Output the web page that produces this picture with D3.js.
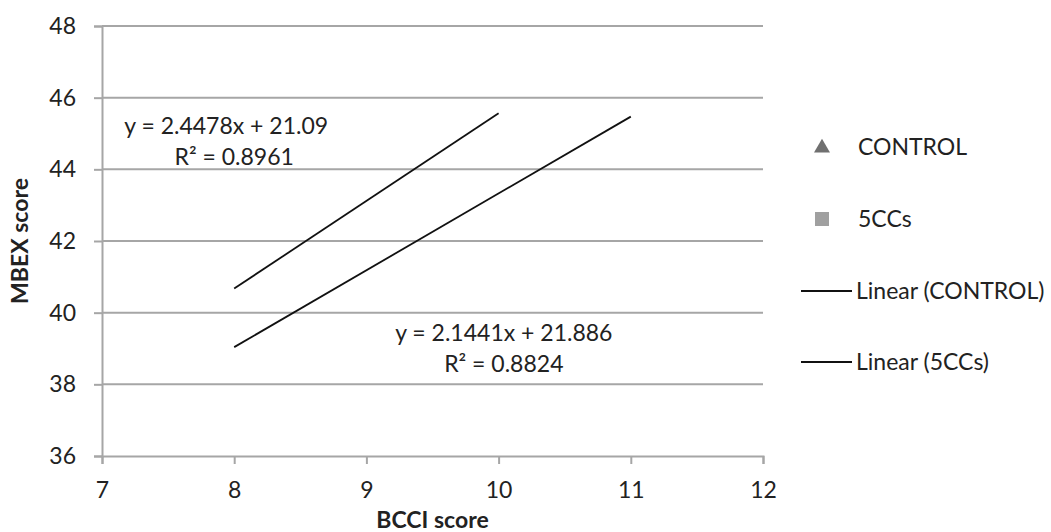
<!DOCTYPE html>
<html>
<head>
<meta charset="utf-8">
<script src="https://cdn.jsdelivr.net/npm/d3@7"></script>
<style>
  body { margin: 0; background: #fff; }
  text { font-family: Lato, "Open Sans", sans-serif; fill: #222; }
</style>
</head>
<body>
<svg id="chart" width="1051" height="532"></svg>
<script>
const seriesNames = ["CONTROL", "5CCs"];
const slopes = [2.4478, 2.1441];
const intercepts = [21.09, 21.886];
const rSquared = [0.8961, 0.8824];
const xStart = [8, 8];
const xEnd = [10, 11];
const xTicks = [7, 8, 9, 10, 11, 12];
const yTicks = [36, 38, 40, 42, 44, 46, 48];

const svg = d3.select("#chart");
const margin = { left: 102, right: 288, top: 26, bottom: 76 };
const W = 1051, H = 532;
const fontSize = "23px";

const x = d3.scaleLinear().domain([7, 12]).range([margin.left, W - margin.right]);
const y = d3.scaleLinear().domain([36, 48]).range([H - margin.bottom, margin.top]);

const gridColor = "#a6a6a6";

// gridlines
svg.append("g")
  .selectAll("line")
  .data(yTicks.slice(1))
  .enter()
  .append("line")
  .attr("x1", x(7)).attr("x2", x(12))
  .attr("y1", d => y(d)).attr("y2", d => y(d))
  .attr("stroke", gridColor).attr("stroke-width", 2);

const xAxis = svg.append("g")
  .attr("transform", `translate(0,${y(36)})`)
  .call(d3.axisBottom(x).tickValues(xTicks).tickSize(8).tickPadding(18).tickFormat(d3.format("d")));
const yAxis = svg.append("g")
  .attr("transform", `translate(${x(7)},0)`)
  .call(d3.axisLeft(y).tickValues(yTicks).tickSize(8).tickPadding(18).tickFormat(d3.format("d")));

[xAxis, yAxis].forEach(a => {
  a.select(".domain").attr("stroke", gridColor).attr("stroke-width", 2);
  a.selectAll(".tick line").attr("stroke", gridColor).attr("stroke-width", 2);
  a.selectAll(".tick text").style("font-size", fontSize).attr("fill", "#222");
});

// trendlines
const lineGen = d3.line().x(d => x(d[0])).y(d => y(d[1]));
seriesNames.forEach((name, i) => {
  const pts = [xStart[i], xEnd[i]].map(v => [v, slopes[i] * v + intercepts[i]]);
  svg.append("path")
    .attr("d", lineGen(pts))
    .attr("fill", "none")
    .attr("stroke", "#111")
    .attr("stroke-width", 1.8);
});

// equation labels
const labelPos = [[8.0, 45.0], [10.1, 39.2]];
seriesNames.forEach((name, i) => {
  const cx = x(labelPos[i][0]) - 8;
  const g = svg.append("text")
    .attr("text-anchor", "middle")
    .style("font-size", fontSize);
  g.append("tspan")
    .attr("x", cx).attr("y", y(labelPos[i][1]))
    .text(`y = ${slopes[i]}x + ${intercepts[i]}`);
  g.append("tspan")
    .attr("x", cx + (i === 0 ? 8 : 0)).attr("dy", 31)
    .text(`R² = ${rSquared[i]}`);
});

// axis titles
svg.append("text")
  .attr("x", (x(7) + x(12)) / 2).attr("y", 528)
  .attr("text-anchor", "middle")
  .style("font-size", fontSize).style("font-weight", "bold")
  .text("BCCI score");
svg.append("text")
  .attr("transform", `translate(28,${(y(36) + y(48)) / 2}) rotate(-90)`)
  .attr("text-anchor", "middle")
  .style("font-size", fontSize).style("font-weight", "bold")
  .text("MBEX score");

// legend
const legend = svg.append("g");
const legendY = [147, 219, 291, 362];
legend.append("path")
  .attr("d", d3.symbol(d3.symbolTriangle, 110)())
  .attr("transform", `translate(822,${legendY[0] + 1})`)
  .attr("fill", "#707070");
legend.append("rect")
  .attr("x", 815).attr("y", legendY[1] - 7).attr("width", 14).attr("height", 14)
  .attr("fill", "#a0a0a0");
[0, 1].forEach(i => {
  legend.append("text")
    .attr("x", 858).attr("y", legendY[i]).attr("dy", "0.35em")
    .style("font-size", fontSize)
    .text(seriesNames[i]);
  legend.append("line")
    .attr("x1", 801).attr("x2", 852)
    .attr("y1", legendY[i + 2]).attr("y2", legendY[i + 2])
    .attr("stroke", "#111").attr("stroke-width", 1.8);
  legend.append("text")
    .attr("x", 856).attr("y", legendY[i + 2]).attr("dy", "0.35em")
    .style("font-size", fontSize)
    .text(`Linear (${seriesNames[i]})`);
});
</script>
</body>
</html>
